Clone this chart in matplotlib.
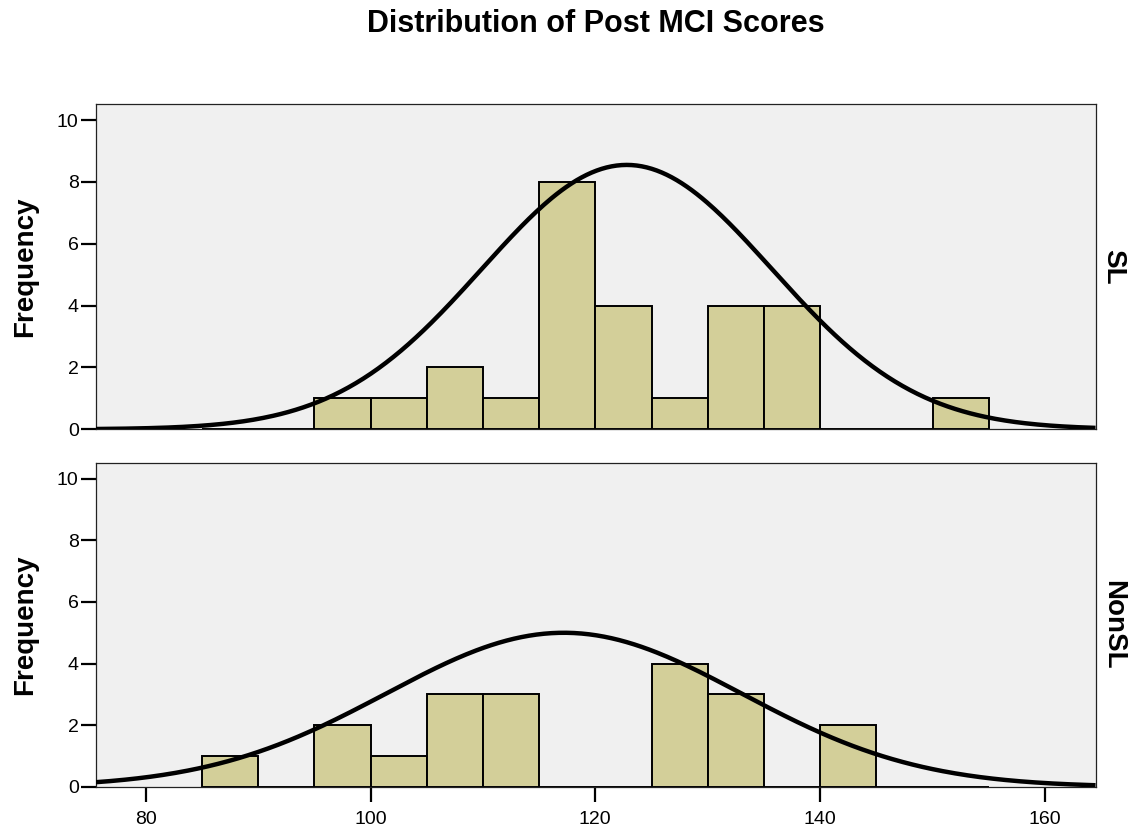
import matplotlib
matplotlib.use("Agg")
import matplotlib.pyplot as plt
import numpy as np

plt.rcParams.update(
    {
        "font.family": ["Liberation Sans", "DejaVu Sans"],
        "font.size": 14,
    }
)

# Histogram bins (width 5) and counts
bin_starts = [85, 90, 95, 100, 105, 110, 115, 120, 125, 130, 135, 140, 145, 150]
bin_width = 5
sl_counts = [0, 0, 1, 1, 2, 1, 8, 4, 1, 4, 4, 0, 0, 1]
nonsl_counts = [1, 0, 2, 1, 3, 3, 0, 0, 4, 3, 0, 2, 0, 0]

# Normal curve overlays: mean, sd, peak height (in frequency units)
sl_curve = (122.8, 12.9, 8.55)
nonsl_curve = (117.2, 15.8, 5.0)

group_labels = ["SL", "NonSL"]
y_ticks = [0, 2, 4, 6, 8, 10]
x_ticks = [80, 100, 120, 140, 160]

bar_face = "#d3cf99"
panel_bg = "#f0f0f0"

fig = plt.figure(figsize=(11.35, 8.32), dpi=100)
ax_top = fig.add_axes([0.0846, 0.484, 0.8806, 0.391])
ax_bot = fig.add_axes([0.0846, 0.0541, 0.8806, 0.390])

xs = np.linspace(75.5, 164.5, 400)

for ax, counts, curve, label in zip(
    [ax_top, ax_bot], [sl_counts, nonsl_counts], [sl_curve, nonsl_curve], group_labels
):
    ax.set_facecolor(panel_bg)
    ax.bar(
        bin_starts,
        counts,
        width=bin_width,
        align="edge",
        facecolor=bar_face,
        edgecolor="black",
        linewidth=1.4,
        zorder=2,
    )
    mu, sd, peak = curve
    ax.plot(xs, peak * np.exp(-((xs - mu) ** 2) / (2 * sd**2)), color="black",
            linewidth=3.2, zorder=3, solid_capstyle="butt")
    ax.set_xlim(75.58, 164.5)
    ax.set_ylim(0, 10.52)
    ax.set_yticks(y_ticks)
    ax.set_xticks(x_ticks)
    ax.tick_params(axis="y", length=11, width=1.6, pad=1.5, labelsize=14)
    ax.tick_params(axis="x", length=11, width=1.6, pad=6, labelsize=14)
    for s in ax.spines.values():
        s.set_linewidth(0.9)
        s.set_color("#222222")
    ax.set_ylabel("Frequency", fontsize=20, fontweight="bold")
    ax.yaxis.set_label_coords(-0.058, 0.5)
    ax.text(1.0175, 0.5, label, transform=ax.transAxes, rotation=-90,
            ha="center", va="center", fontsize=20, fontweight="bold")

ax_top.tick_params(axis="x", bottom=False, labelbottom=False)

fig.text(0.5246, 0.971, "Distribution of Post MCI Scores", ha="center",
         va="center", fontsize=22, fontweight="bold")

fig.savefig("out.png", dpi=100)
